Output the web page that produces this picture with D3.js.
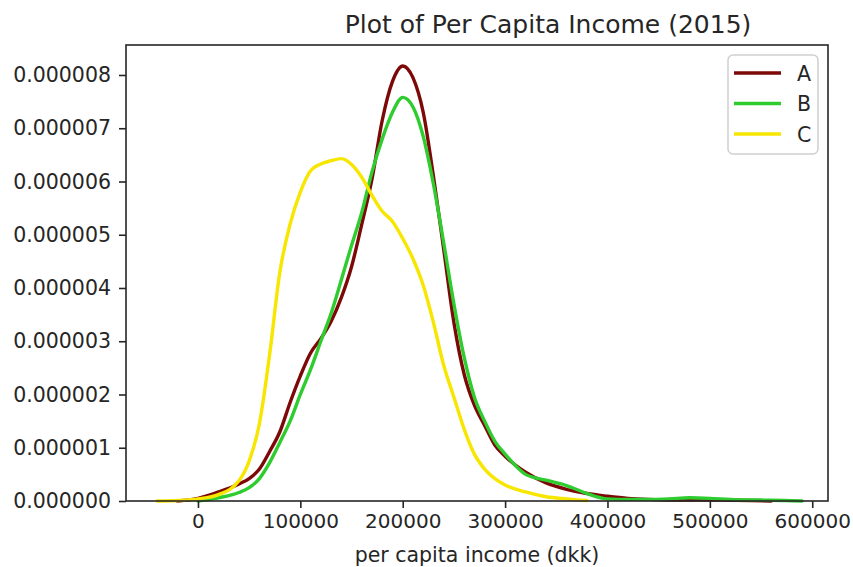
<!DOCTYPE html>
<html>
<head>
<meta charset="utf-8">
<script src="https://cdn.jsdelivr.net/npm/d3@7"></script>
<style>
  html, body { margin: 0; padding: 0; background: #fff; }
  svg { display: block; }
  text { font-family: "DejaVu Sans", sans-serif; fill: #262626; }
</style>
</head>
<body>
<svg id="chart" width="853" height="567"></svg>
<script>
// ---- data (density values) ----
const income = [-40000,-20000,0,20000,40000,50000,60000,70000,80000,90000,100000,110000,120000,130000,140000,150000,160000,170000,180000,190000,200000,210000,220000,230000,240000,250000,260000,270000,280000,290000,300000,320000,340000,360000,380000,400000,420000,440000,460000,480000,500000,520000,540000,560000,580000,590000];

const densityA = [null,0.0,0.05e-6,0.17e-6,0.32e-6,0.42e-6,0.6e-6,0.93e-6,1.3e-6,1.85e-6,2.35e-6,2.78e-6,3.05e-6,3.37e-6,3.82e-6,4.4e-6,5.2e-6,6.05e-6,7.15e-6,7.88e-6,8.17e-6,7.95e-6,7.3e-6,6.1e-6,4.73e-6,3.35e-6,2.38e-6,1.8e-6,1.42e-6,1.05e-6,0.84e-6,0.54e-6,0.34e-6,0.22e-6,0.14e-6,0.09e-6,0.05e-6,0.03e-6,0.02e-6,0.02e-6,0.02e-6,0.015e-6,0.01e-6,0.0,null,null];

const densityB = [null,null,0.0,0.06e-6,0.16e-6,0.25e-6,0.42e-6,0.72e-6,1.1e-6,1.5e-6,2.0e-6,2.47e-6,3.0e-6,3.52e-6,4.15e-6,4.8e-6,5.42e-6,6.18e-6,6.8e-6,7.3e-6,7.58e-6,7.4e-6,6.85e-6,5.95e-6,4.85e-6,3.7e-6,2.7e-6,1.95e-6,1.5e-6,1.12e-6,0.88e-6,0.5e-6,0.39e-6,0.29e-6,0.14e-6,0.04e-6,0.03e-6,0.03e-6,0.04e-6,0.06e-6,0.05e-6,0.03e-6,0.02e-6,0.015e-6,0.005e-6,0.0];

const densityC = [0.0,0.01e-6,0.04e-6,0.12e-6,0.38e-6,0.75e-6,1.45e-6,2.75e-6,4.3e-6,5.2e-6,5.8e-6,6.2e-6,6.33e-6,6.39e-6,6.43e-6,6.32e-6,6.08e-6,5.74e-6,5.44e-6,5.25e-6,4.93e-6,4.55e-6,4.05e-6,3.35e-6,2.55e-6,1.95e-6,1.35e-6,0.88e-6,0.6e-6,0.42e-6,0.3e-6,0.17e-6,0.08e-6,0.04e-6,0.01e-6,null,null,null,null,null,null,null,null,null,null,null];

const seriesNames = ["A", "B", "C"];
const seriesColors = ["#7d0808", "#2ecc2e", "#f7e600"];
const xTicks = [0, 100000, 200000, 300000, 400000, 500000, 600000];
const yTicks = [0, 1e-6, 2e-6, 3e-6, 4e-6, 5e-6, 6e-6, 7e-6, 8e-6];
const titleText = "Plot of Per Capita Income (2015)";
const xLabelText = "per capita income (dkk)";

// ---- layout ----
const plot = { left: 126, right: 828, top: 45, bottom: 501 };
const svg = d3.select("#chart");

const x = d3.scaleLinear().domain([-70300, 615400]).range([plot.left, plot.right]);
const y = d3.scaleLinear().domain([0, 8.563e-6]).range([plot.bottom, plot.top]);

const series = [densityA, densityB, densityC].map((vals, i) => ({
  name: seriesNames[i],
  color: seriesColors[i],
  points: income.map((v, j) => ({ x: v, y: vals[j] }))
}));

// curves
const line = d3.line()
  .defined(d => d.y !== null)
  .x(d => x(d.x))
  .y(d => y(d.y))
  .curve(d3.curveMonotoneX);

const g = svg.append("g");
g.selectAll("path.kde").data(series).enter().append("path")
  .attr("class", "kde")
  .attr("d", d => line(d.points))
  .attr("fill", "none")
  .attr("stroke", d => d.color)
  .attr("stroke-width", 3.4)
  .attr("stroke-linejoin", "round")
  .attr("stroke-linecap", "round");

// axes
const fontSize = 20.5;
const xAxis = d3.axisBottom(x).tickValues(xTicks).tickFormat(d3.format("d")).tickSize(7).tickPadding(6);
const yAxis = d3.axisLeft(y).tickValues(yTicks).tickFormat(d => d.toFixed(6)).tickSize(7).tickPadding(8);

const gx = svg.append("g").attr("transform", `translate(0,${plot.bottom})`).call(xAxis);
const gy = svg.append("g").attr("transform", `translate(${plot.left},0)`).call(yAxis);
[gx, gy].forEach(a => {
  a.select(".domain").remove();
  a.selectAll(".tick line").attr("stroke", "#262626").attr("stroke-width", 1.6);
  a.selectAll(".tick text")
    .style("font-family", "'DejaVu Sans', sans-serif")
    .attr("fill", "#262626");
});
gy.selectAll(".tick text").style("font-size", fontSize + "px");
gx.selectAll(".tick text").style("font-size", "20px");

// frame
svg.append("rect")
  .attr("x", plot.left).attr("y", plot.top)
  .attr("width", plot.right - plot.left).attr("height", plot.bottom - plot.top)
  .attr("fill", "none").attr("stroke", "#262626").attr("stroke-width", 1.6);

// title
svg.append("text")
  .attr("x", 548).attr("y", 33)
  .attr("text-anchor", "middle")
  .style("font-size", "25px")
  .text(titleText);

// x label
svg.append("text")
  .attr("x", (plot.left + plot.right) / 2).attr("y", 562)
  .attr("text-anchor", "middle")
  .style("font-size", fontSize + "px")
  .text(xLabelText);

// legend
const leg = svg.append("g").attr("transform", "translate(728,55)");
leg.append("rect")
  .attr("width", 90).attr("height", 99).attr("rx", 5)
  .attr("fill", "#fff").attr("fill-opacity", 0.8)
  .attr("stroke", "#d0d0d0").attr("stroke-width", 1.5);
const items = leg.selectAll("g.item").data(series).enter().append("g")
  .attr("class", "item")
  .attr("transform", (d, i) => `translate(0,${18 + i * 30.5})`);
items.append("line")
  .attr("x1", 6).attr("x2", 53).attr("y1", 0).attr("y2", 0)
  .attr("stroke", d => d.color).attr("stroke-width", 3.6);
items.append("text")
  .attr("x", 69).attr("y", 7.5)
  .style("font-size", fontSize + "px")
  .text(d => d.name);
</script>
</body>
</html>
